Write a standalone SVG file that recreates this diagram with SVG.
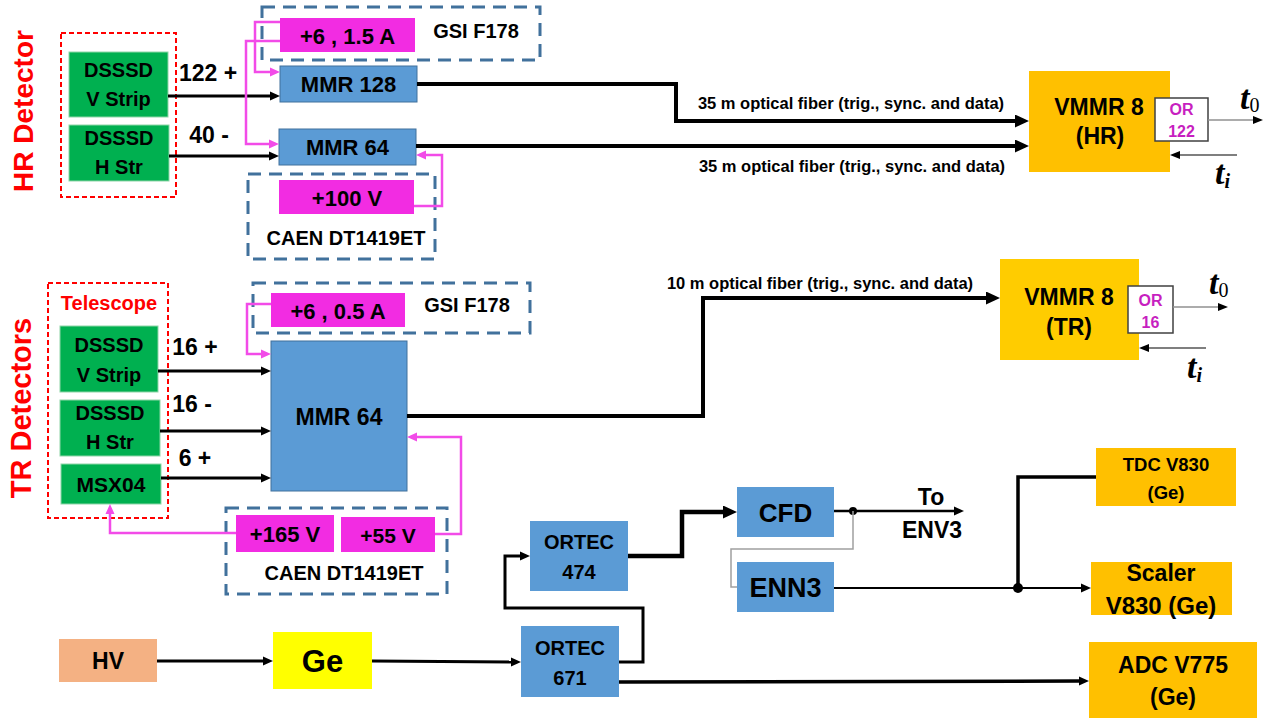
<svg xmlns="http://www.w3.org/2000/svg" width="1276" height="720" viewBox="0 0 1276 720">
<style>
text{font-family:"Liberation Sans",Arial,sans-serif;font-weight:bold;fill:#000;text-anchor:middle;dominant-baseline:central}
.red{fill:#FF0000}
.grn{fill:#00B050;stroke:#8FD5A8;stroke-width:1}
.blu{fill:#5B9BD5;stroke:#41719C;stroke-width:1}
.pnk{fill:#F22CE2}
.org{fill:#FFC000}
.dsh{fill:none;stroke:#41719C;stroke-width:3;stroke-dasharray:13 8}
.rdsh{fill:none;stroke:#FF0000;stroke-width:2;stroke-dasharray:5 3}
.k{fill:none;stroke:#000;stroke-width:3}
.kf{fill:none;stroke:#000;stroke-width:4}
.pl{fill:none;stroke:#F24BE8;stroke-width:2.5}
.or{fill:#C71FC0;font-size:16px}
.mt{font-family:"Liberation Serif",serif;font-style:italic;font-weight:bold;text-anchor:start;dominant-baseline:auto}
.fib{font-size:16.5px}
</style>
<defs>
<marker id="a" viewBox="0 0 10 10" refX="2" refY="5" markerWidth="10" markerHeight="10" markerUnits="userSpaceOnUse" orient="auto"><path d="M0,0.5 L10,5 L0,9.5z" fill="#000"/></marker>
<marker id="aL" viewBox="0 0 14 13" refX="3" refY="6.5" markerWidth="14" markerHeight="13" markerUnits="userSpaceOnUse" orient="auto"><path d="M0,0 L14,6.5 L0,13z" fill="#000"/></marker>
<marker id="p" viewBox="0 0 10 10" refX="2" refY="5" markerWidth="10" markerHeight="10" markerUnits="userSpaceOnUse" orient="auto"><path d="M0,0.5 L10,5 L0,9.5z" fill="#F24BE8"/></marker>
<marker id="s" viewBox="0 0 10 8" refX="2" refY="4" markerWidth="10" markerHeight="8" markerUnits="userSpaceOnUse" orient="auto"><path d="M0,0 L10,4 L0,8z" fill="#000"/></marker>
</defs>
<rect width="1276" height="720" fill="#fff"/>

<!-- section labels -->
<g id="hr-label"><text class="red" transform="translate(33,111) rotate(-90)" style="font-size:28px;dominant-baseline:auto">HR Detector</text></g>
<g id="tr-label"><text class="red" transform="translate(31,408) rotate(-90)" style="font-size:29px;dominant-baseline:auto">TR Detectors</text></g>

<!-- HR section -->
<g id="hr-detector-group"><rect class="rdsh" x="61" y="33" width="115" height="164"/></g>
<g id="hr-vstrip"><rect class="grn" x="69" y="52" width="99" height="65"/><text x="118.5" y="70" font-size="20">DSSSD</text><text x="118.5" y="99" font-size="20">V Strip</text></g>
<g id="hr-hstr"><rect class="grn" x="69" y="125" width="100" height="56"/><text x="119" y="138" font-size="20">DSSSD</text><text x="119" y="167" font-size="20">H Str</text></g>
<g id="hr-gsi"><rect class="dsh" x="262" y="7" width="278" height="53"/><rect class="pnk" x="280" y="18" width="135" height="34"/><text x="347.5" y="36" font-size="22">+6 , 1.5 A</text><text x="476" y="31" font-size="20">GSI F178</text></g>
<g id="hr-caen"><rect class="dsh" x="248" y="174" width="187" height="85"/><rect class="pnk" x="279" y="180" width="135" height="34"/><text x="347" y="198" font-size="22">+100 V</text><text x="346" y="238" font-size="20">CAEN DT1419ET</text></g>
<g id="hr-mmr128"><rect class="blu" x="280" y="66" width="137" height="36"/><text x="348.5" y="84" font-size="22">MMR 128</text></g>
<g id="hr-mmr64"><rect class="blu" x="279" y="129" width="137" height="36"/><text x="347.5" y="147" font-size="22">MMR 64</text></g>
<g id="hr-vmmr"><rect fill="#FFC000" x="1029" y="71" width="141" height="101"/><text x="1099" y="107" font-size="23">VMMR 8</text><text x="1100" y="136" font-size="23">(HR)</text></g>
<g id="hr-or"><rect x="1155" y="98" width="53" height="43" fill="#fff" stroke="#404040" stroke-width="1.5"/><text class="or" x="1181.5" y="109">OR</text><text class="or" x="1181.5" y="131">122</text></g>

<!-- TR section -->
<g id="telescope"><rect class="rdsh" x="48" y="283" width="120" height="235"/><text class="red" x="109" y="303" font-size="20">Telescope</text></g>
<g id="tr-vstrip"><rect class="grn" x="60" y="326" width="98" height="66"/><text x="109" y="345" font-size="20">DSSSD</text><text x="109" y="375" font-size="20">V Strip</text></g>
<g id="tr-hstr"><rect class="grn" x="60" y="400" width="100" height="56"/><text x="110" y="413" font-size="20">DSSSD</text><text x="110" y="442" font-size="20">H Str</text></g>
<g id="tr-msx04"><rect class="grn" x="61" y="464" width="100" height="40"/><text x="111" y="484" font-size="21">MSX04</text></g>
<g id="tr-gsi"><rect class="dsh" x="253" y="283" width="277" height="50"/><rect class="pnk" x="271" y="293" width="134" height="34"/><text x="338" y="311" font-size="22">+6 , 0.5 A</text><text x="467" y="305" font-size="20">GSI F178</text></g>
<g id="tr-caen"><rect class="dsh" x="226" y="508" width="221" height="86"/><rect class="pnk" x="236" y="515" width="98" height="37"/><text x="285" y="534" font-size="22">+165 V</text><rect class="pnk" x="341" y="517" width="94" height="35"/><text x="388" y="535" font-size="21">+55 V</text><text x="344" y="573" font-size="20">CAEN DT1419ET</text></g>
<g id="tr-mmr64"><rect class="blu" x="271" y="341" width="136" height="150"/><text x="339" y="417" font-size="23">MMR 64</text></g>
<g id="tr-vmmr"><rect fill="#FFCC00" x="1000" y="259" width="139" height="101"/><text x="1069" y="297" font-size="23">VMMR 8</text><text x="1069" y="327" font-size="23">(TR)</text></g>
<g id="tr-or"><rect x="1128" y="286" width="45" height="47" fill="#fff" stroke="#404040" stroke-width="1.5"/><text class="or" x="1150.5" y="300">OR</text><text class="or" x="1150.5" y="322">16</text></g>

<!-- Ge chain -->
<g id="hv"><rect fill="#F4B183" x="59" y="639" width="98" height="43"/><text x="108" y="661" font-size="23">HV</text></g>
<g id="ge"><rect fill="#FFFF00" x="273" y="632" width="99" height="57"/><text x="322.5" y="661" font-size="31">Ge</text></g>
<g id="ortec671"><rect fill="#5B9BD5" x="521" y="626" width="98" height="71"/><text x="570" y="648" font-size="20">ORTEC</text><text x="570" y="678" font-size="20">671</text></g>
<g id="ortec474"><rect fill="#5B9BD5" x="530" y="521" width="98" height="70"/><text x="579" y="542" font-size="20">ORTEC</text><text x="579" y="572" font-size="20">474</text></g>
<g id="cfd"><rect fill="#5B9BD5" x="737" y="487" width="97" height="50"/><text x="785.5" y="513" font-size="26">CFD</text></g>
<g id="enn3"><rect fill="#5B9BD5" x="737" y="562" width="97" height="50"/><text x="785.5" y="588" font-size="27">ENN3</text></g>
<g id="env3"><text x="931" y="497" font-size="23">To</text><text x="932" y="530" font-size="23">ENV3</text></g>
<g id="tdc"><rect class="org" x="1096" y="448" width="140" height="58"/><text x="1166" y="464" font-size="18.5">TDC V830</text><text x="1166" y="492" font-size="18.5">(Ge)</text></g>
<g id="scaler"><rect class="org" x="1091" y="562" width="141" height="53"/><text x="1161" y="573" font-size="23">Scaler</text><text x="1161" y="605" font-size="24">V830 (Ge)</text></g>
<g id="adc"><rect class="org" x="1089" y="642" width="168" height="76"/><text x="1173" y="665" font-size="23">ADC V775</text><text x="1173" y="697" font-size="23">(Ge)</text></g>

<!-- connectors -->
<g id="connectors">
<!-- HR -->
<path class="k" d="M168,96 H272" marker-end="url(#a)"/>
<path class="k" d="M169,156 H271" marker-end="url(#a)"/>
<path class="pl" d="M280,22 H255 V72 H272" marker-end="url(#p)"/>
<path class="pl" d="M280,41 H246 V144 H271" marker-end="url(#p)"/>
<path class="pl" d="M414,206 H442 V155 H424" marker-end="url(#p)"/>
<path class="kf" d="M417,84 H676 V121 H1018" marker-end="url(#aL)"/>
<path class="kf" d="M416,146 H1018" marker-end="url(#aL)"/>
<path d="M1208,120 H1255" stroke="#909090" stroke-width="1.5" fill="none" marker-end="url(#s)"/>
<path d="M1237,155 H1178" stroke="#000" stroke-width="1.2" fill="none" marker-end="url(#s)"/>
<!-- TR -->
<path class="k" d="M158,371 H263" marker-end="url(#a)"/>
<path class="k" d="M160,431 H263" marker-end="url(#a)"/>
<path class="k" d="M161,478 H263" marker-end="url(#a)"/>
<path class="pl" d="M271,304 H247 V354 H263" marker-end="url(#p)"/>
<path class="pl" d="M435,534 H461 V437 H415" marker-end="url(#p)"/>
<path class="pl" d="M236,533 H110 V512" marker-end="url(#p)"/>
<path class="kf" d="M407,416 H703 V298 H989" marker-end="url(#aL)"/>
<path d="M1173,307 H1220" stroke="#909090" stroke-width="1.5" fill="none" marker-end="url(#s)"/>
<path d="M1206,348 H1147" stroke="#000" stroke-width="1.2" fill="none" marker-end="url(#s)"/>
<!-- Ge chain -->
<path class="k" d="M157,661 H265" marker-end="url(#a)"/>
<path class="k" d="M372,661 L513,662" marker-end="url(#a)"/>
<path class="k" d="M619,662 H643 V608 H505 V556 H522" marker-end="url(#a)"/>
<path d="M628,556 H682 V512 H726" fill="none" stroke="#000" stroke-width="4.5" marker-end="url(#aL)"/>
<path d="M834,511 H956" fill="none" stroke="#000" stroke-width="2.5" marker-end="url(#a)"/>
<circle cx="853" cy="511" r="4"/>
<path d="M853,511 V549 H731 V587 H737" fill="none" stroke="#A0A0A0" stroke-width="1.5"/>
<path d="M834,588 H1083" fill="none" stroke="#000" stroke-width="2" marker-end="url(#a)"/>
<path d="M1096,477 H1018 V588" fill="none" stroke="#000" stroke-width="3.5"/>
<circle cx="1018" cy="588" r="5"/>
<path d="M619,682 L1081,681" fill="none" stroke="#000" stroke-width="3.5" marker-end="url(#a)"/>
</g>

<!-- fiber labels and time labels -->
<g id="labels">
<text x="208" y="73" font-size="23">122 +</text>
<text x="209" y="135" font-size="23">40 -</text>
<text x="195" y="347" font-size="23">16 +</text>
<text x="192" y="404" font-size="23">16 -</text>
<text x="195" y="458" font-size="23">6 +</text>
<text class="fib" x="851" y="103">35 m optical fiber (trig., sync. and data)</text>
<text class="fib" x="852" y="166">35 m optical fiber (trig., sync. and data)</text>
<text class="fib" x="820" y="283">10 m optical fiber (trig., sync. and data)</text>
<text class="mt" x="1240" y="109" font-size="34">t<tspan font-style="normal" font-weight="normal" font-size="20" dy="3">0</tspan></text>
<text class="mt" x="1215" y="184" font-size="34">t<tspan font-size="20" dy="4">i</tspan></text>
<text class="mt" x="1209" y="294" font-size="34">t<tspan font-style="normal" font-weight="normal" font-size="20" dy="3">0</tspan></text>
<text class="mt" x="1187" y="378" font-size="34">t<tspan font-size="20" dy="4">i</tspan></text>
</g>
</svg>
